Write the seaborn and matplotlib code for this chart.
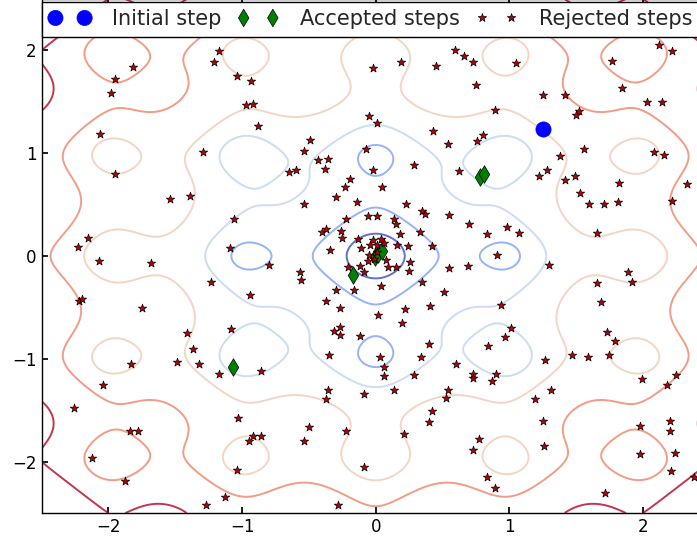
import numpy as np
import matplotlib
matplotlib.use("Agg")
import matplotlib.pyplot as plt
import seaborn as sns

# contour levels of the objective (Ackley-type surface)
LEVELS = [1.5, 3.0, 4.5, 6.0, 7.5, 9.0]

initial_x = [1.25]
initial_y = [1.24]

accepted_x = [0.78, 0.81, -1.07, -0.17, -0.005, 0.02, 0.045]
accepted_y = [0.77, 0.80, -1.08, -0.18, -0.014, 0.019, 0.051]

rejected_x = [
    -1.82, -1.95, -1.98, -1.17, -1.21, -1.04, -2.06, -1.95, -1.29, -1.54, -1.39,
    -0.93, -0.97, -0.92, -0.88, -0.02, 0.19, 0.45, 0.59, 0.66, -0.05, 0.01,
    -0.49, -0.54, -0.43, -0.36, -0.38, -0.65, -0.60, -0.07, -0.02, -0.19, -0.23,
    0.05, -0.30, -0.14, -0.54, 0.23, 0.29, 0.43, 0.54, 0.62,
    0.73, 1.05, 0.75, 0.89, 1.25, 1.42, 1.52, 1.50, 2.12, 2.22, 1.77, 1.84,
    2.03, 2.14, 0.80, 0.76, 1.38, 1.56, 1.28, 1.22, 1.42, 1.49, 1.53, 1.60,
    1.71, 1.81, 1.82, 2.08, 2.16, 2.33, 2.22,
    -1.06, -2.15, -2.23, -2.07, -1.68, -1.09, -1.23, -2.22, -2.20, -1.75, -1.41,
    -1.37, -1.08, -1.83, -1.49, -1.32, -1.17,
    0.35, 0.37, 0.55, 0.70, -0.22, -0.06, 0.01, 0.14, 0.15, -0.40, -0.37,
    -0.26, -0.25, 0.18, 0.33, -0.34, -0.80, -0.57, -0.56, -0.94, 0.26, 0.25,
    0.24, 0.42, 0.55, 0.35, 0.51, 0.04, -0.16, -0.30, -0.37, -0.27, 0.22, 0.41,
    0.02, 0.20, -0.27, -0.31, -0.27, -0.12, 0.40, 0.34, 0.03, 0.60, -0.35,
    0.06, 0.69,
    -0.13, -0.02, 0.04, 0.06, -0.04, -0.11, 0.01, 0.16, 0.01, -0.05, 0.08,
    -0.06, -0.01, 0.09, 0.15, -0.12, -0.09, -0.21,
    0.83, 0.98, 1.07, 0.91, 1.30, 0.94, 1.01, 0.97, 0.84, 1.66, 1.89, 1.92,
    1.66, 1.69, 1.73, 1.79, 1.27, 1.47, 1.59, 1.75,
    -2.04, -2.26, -1.84, -1.78, -2.12, -1.88, -1.27, -1.13,
    -0.86, 0.06, 0.29, -1.03, -0.92, -0.86, -0.95, -1.04, -0.50, -0.54, -0.36,
    -0.37, -0.09, 0.14, -0.22, -0.09, -0.28, 0.21, 0.40, 0.42, 0.54, 0.53,
    0.73, 0.73, 0.90, 0.87, 1.99, 2.25, 2.18, 1.19, 1.31, 1.25, 1.26, 0.77,
    0.73, 0.83, 0.89, 1.72, 1.98, 2.20, 2.20, 1.98, 2.24, 2.21, 2.38,
]
rejected_y = [
    1.84, 1.72, 1.59, 1.99, 1.89, 1.75, 1.19, 0.80, 1.01, 0.55, 0.58,
    1.70, 1.47, 1.48, 1.26, 1.83, 1.89, 1.85, 2.00, 1.95, 1.36, 1.29,
    1.13, 1.02, 0.93, 0.94, 0.85, 0.82, 0.84, 1.04, 0.84, 0.75, 0.67,
    0.67, 0.57, 0.53, 0.51, 0.51, 0.89, 1.22, 1.09, 0.83,
    1.89, 1.88, 1.66, 1.42, 1.57, 1.57, 1.41, 1.37, 2.05, 1.99, 1.90, 1.63,
    1.50, 1.50, 1.18, 1.12, 0.97, 1.04, 0.84, 0.78, 0.74, 0.78, 0.61, 0.51,
    0.51, 0.53, 0.71, 1.01, 0.98, 0.70, 0.54,
    0.36, 0.18, 0.09, -0.05, -0.07, 0.08, -0.25, -0.44, -0.42, -0.51, -0.75,
    -0.90, -0.71, -1.05, -1.03, -1.05, -1.15,
    0.44, 0.41, 0.40, 0.31, 0.36, 0.39, 0.39, 0.36, 0.31, 0.23, 0.26,
    0.24, 0.18, 0.21, 0.23, 0.06, -0.09, -0.16, -0.23, -0.38, -0.06, -0.15,
    0.10, 0.10, -0.12, -0.25, -0.35, -0.29, -0.33, -0.33, -0.44, -0.51, -0.52, -0.49,
    -0.57, -0.65, -0.69, -0.73, -0.77, -0.78, -0.86, -0.98, -0.98, -1.05, -0.96,
    -1.08, -0.10,
    0.17, 0.16, 0.17, 0.13, 0.11, 0.08, 0.11, 0.11, 0.04, 0.01, -0.04,
    -0.05, -0.03, -0.11, -0.11, -0.10, -0.16, -0.11,
    0.21, 0.28, 0.22, 0.01, -0.09, -0.48, -0.70, -0.79, -0.88, 0.22, -0.16, -0.25,
    -0.26, -0.45, -0.74, -0.83, -1.01, -0.96, -0.98, -0.96,
    -1.25, -1.48, -1.70, -1.70, -1.96, -2.19, -2.42, -2.34,
    -1.12, -1.17, -1.16, -1.58, -1.75, -1.75, -1.80, -2.08, -1.66, -1.80, -1.30,
    -1.39, -1.34, -1.30, -1.70, -2.05, -2.42, -1.73, -1.61, -1.51, -1.30, -1.38,
    -1.15, -1.19, -1.15, -1.22, -1.20, -1.16, -1.25, -1.39, -1.30, -1.60, -1.85, -1.78,
    -1.89, -2.15, -2.26, -2.31, -1.65, -1.60, -1.70, -1.93, -1.92, -2.09, -2.15,
]


def ackley(x, y):
    r = np.sqrt(0.5 * (x ** 2 + y ** 2))
    c = 0.5 * (np.cos(2 * np.pi * x) + np.cos(2 * np.pi * y))
    return -20.0 * np.exp(-0.2 * r) - np.exp(c) + np.e + 20.0


sns.set_theme(style="white", rc={
    "xtick.direction": "in",
    "ytick.direction": "in",
    "xtick.top": True,
    "ytick.right": True,
    "xtick.bottom": True,
    "ytick.left": True,
    "xtick.major.size": 4,
    "ytick.major.size": 4,
    "axes.edgecolor": "black",
    "axes.linewidth": 1.0,
})
plt.rcParams["font.family"] = ["DejaVu Sans"]

fig = plt.figure(figsize=(6.97, 5.39), dpi=100)
ax = fig.add_axes([0.0598, 0.0482, 0.9584, 0.9536])

grid = np.linspace(-2.5, 2.5, 301)
X, Y = np.meshgrid(grid, grid)
Z = ackley(X, Y)
ax.contour(X, Y, Z, levels=LEVELS, cmap="coolwarm", linewidths=1.4, alpha=0.8)

sns.scatterplot(x=initial_x, y=initial_y, ax=ax, marker="o", s=120, color="blue",
                edgecolor="blue", linewidth=0.5, label="Initial step", zorder=3)
sns.scatterplot(x=accepted_x, y=accepted_y, ax=ax, marker="d", s=80, color="green",
                edgecolor="black", linewidth=0.5, label="Accepted steps", zorder=3)
sns.scatterplot(x=rejected_x, y=rejected_y, ax=ax, marker="*", s=40, color="#c00000",
                edgecolor="black", linewidth=0.5, label="Rejected steps", zorder=3)

ax.set_xlim(-2.5, 2.5)
ax.set_ylim(-2.5, 2.5)
ax.set_xticks([-2, -1, 0, 1, 2])
ax.set_yticks([-2, -1, 0, 1, 2])
ax.tick_params(labelsize=12, colors="black")
ax.set_xlabel("")
ax.set_ylabel("")

leg = ax.legend(loc="upper left", bbox_to_anchor=(0.0, 0.0, 0.985, 0.9947), mode="expand",
                ncol=3, borderaxespad=0.0, fontsize=15, scatterpoints=2,
                scatteryoffsets=[0.5], frameon=True, fancybox=False,
                handlelength=2.0, handletextpad=1.0, borderpad=0.36)
leg.get_frame().set_edgecolor("black")
leg.get_frame().set_linewidth(1.0)
leg.get_frame().set_alpha(1.0)
leg.set_zorder(10)

fig.savefig("out.png", dpi=100)
